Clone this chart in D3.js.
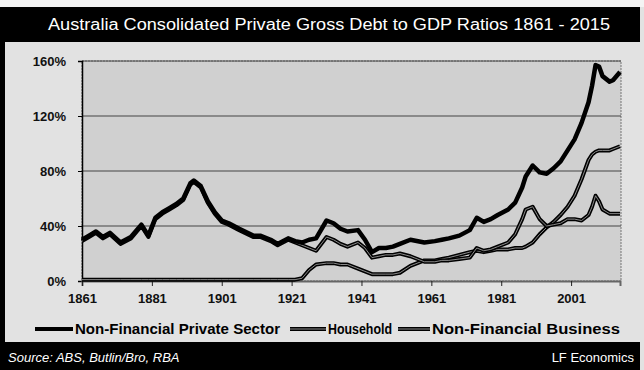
<!DOCTYPE html>
<html>
<head>
<meta charset="utf-8">
<script src="https://cdn.jsdelivr.net/npm/d3@7"></script>
<style>
  body { margin: 0; background: #fff; }
  svg { display: block; }
</style>
</head>
<body>
<div id="chart"></div>
<script>
const years = [1861, 1863, 1865, 1867, 1869, 1872, 1875, 1878, 1880, 1882, 1884, 1886, 1888, 1890, 1892, 1893, 1895, 1897, 1899, 1901,
  1903, 1906, 1910, 1912, 1915, 1917, 1920, 1922, 1924, 1926, 1928, 1931, 1933, 1935, 1937, 1940, 1942, 1944, 1946, 1948,
  1950, 1952, 1955, 1959, 1962, 1964, 1966, 1969, 1972, 1974, 1976, 1978, 1980, 1983, 1985, 1987, 1988, 1990, 1992, 1994,
  1996, 1998, 2000, 2002, 2004, 2006, 2007, 2008, 2009, 2010, 2012, 2013, 2015];

const privateSector = [30, 33, 36, 32, 35, 28, 32, 41, 33, 46, 50, 53, 56, 60, 71, 73, 69, 58, 50, 44,
  42, 38, 33, 33, 30, 27, 31, 29, 28, 30, 31, 44, 42, 38, 36, 37, 30, 21, 24, 24,
  25, 27, 30, 28, 29, 30, 31, 33, 37, 46, 43, 45, 48, 52, 57, 68, 76, 84, 79, 78,
  82, 87, 95, 103, 115, 130, 142, 157, 156, 149, 145, 146, 152];

const household = [1, 1, 1, 1, 1, 1, 1, 1, 1, 1, 1, 1, 1, 1, 1, 1, 1, 1, 1, 1,
  1, 1, 1, 1, 1, 1, 1, 1, 2, 8, 12, 13, 13, 12, 12, 9, 7, 5, 5, 5,
  5, 6, 11, 15, 15, 16, 17, 19, 21, 22, 21, 22, 23, 23, 24, 24, 25, 28, 34, 39,
  43, 48, 54, 62, 74, 88, 92, 94, 95, 95, 95, 96, 98];

const business = [29, 32, 35, 31, 34, 27, 31, 40, 32, 45, 49, 52, 55, 59, 70, 72, 68, 57, 49, 43,
  41, 37, 32, 32, 29, 26, 30, 28, 26, 24, 22, 32, 30, 27, 25, 28, 24, 17, 18, 19,
  19, 20, 18, 14, 14, 15, 15, 16, 17, 24, 22, 23, 25, 28, 34, 45, 52, 54, 45, 40,
  41, 42, 45, 45, 44, 48, 54, 62, 58, 52, 49, 49, 49];

const tickYears = [1861, 1881, 1901, 1921, 1941, 1961, 1981, 2001];
const yTicks = [0, 40, 80, 120, 160];
const seriesNames = ['Non-Financial Private Sector', 'Household', 'Non-Financial Business'];

const width = 644, height = 370;
const plot = {left: 82, right: 620, top: 61, bottom: 281};

const svg = d3.select('#chart').append('svg')
  .attr('width', width)
  .attr('height', height)
  .style('font-family', '"Liberation Sans", Arial, sans-serif');

// background + dark frame bits
svg.append('rect').attr('width', width).attr('height', height).attr('fill', '#e2e2e2');
svg.append('rect').attr('x', 0).attr('y', 0).attr('width', width).attr('height', 7).attr('fill', '#f4f4f4');
svg.append('rect').attr('x', 0).attr('y', 7).attr('width', 5).attr('height', height - 7).attr('fill', '#000');
svg.append('rect').attr('x', 0).attr('y', 7).attr('width', 640).attr('height', 35).attr('fill', '#000');
svg.append('rect').attr('x', 0).attr('y', 342).attr('width', 640).attr('height', 28).attr('fill', '#000');

const x = d3.scaleLinear().domain([1861, 2015]).range([plot.left, plot.right]);
const y = d3.scaleLinear().domain([0, 160]).range([plot.bottom, plot.top]);

svg.append('rect')
  .attr('x', plot.left).attr('y', plot.top)
  .attr('width', plot.right - plot.left + 1).attr('height', plot.bottom - plot.top)
  .attr('fill', '#d0d0d0')
  .attr('stroke', '#777')
  .attr('stroke-dasharray', '2,1');

// gridlines
svg.append('g')
  .selectAll('line')
  .data(yTicks.slice(1))
  .enter().append('line')
    .attr('x1', plot.left).attr('x2', plot.right + 1)
    .attr('y1', d => y(d)).attr('y2', d => y(d))
    .attr('stroke', '#444')
    .attr('stroke-width', 1);

// y axis
const yAxis = svg.append('g')
  .attr('transform', 'translate(' + plot.left + ',0)')
  .call(d3.axisLeft(y).tickValues(yTicks).tickSize(4).tickFormat(d => d + '%'));
yAxis.select('.domain').attr('stroke', '#000').attr('stroke-width', 1.5);
yAxis.selectAll('text')
  .attr('x', -16)
  .attr('fill', '#111')
  .style('font-size', '13px')
  .style('font-weight', 'bold');

// x axis
const xAxis = svg.append('g')
  .attr('transform', 'translate(0,' + plot.bottom + ')')
  .call(d3.axisBottom(x).tickValues(tickYears).tickSize(5).tickFormat(d3.format('d')));
xAxis.select('.domain').attr('stroke', '#666').attr('stroke-width', 2);
xAxis.selectAll('line').attr('stroke', '#222');
xAxis.selectAll('text')
  .attr('y', 13)
  .attr('fill', '#111')
  .style('font-size', '13px')
  .style('font-weight', 'bold');

const line = values => d3.line()
  .x((d, i) => x(years[i]))
  .y(d => y(d))(values);

// Household and business drawn as hollow-ish lines, private sector solid on top
[household, business].forEach(vals => {
  svg.append('path').attr('d', line(vals)).attr('fill', 'none')
    .attr('stroke', '#000').attr('stroke-width', 4).attr('stroke-linejoin', 'round');
  svg.append('path').attr('d', line(vals)).attr('fill', 'none')
    .attr('stroke', '#999').attr('stroke-width', 0.9).attr('stroke-linejoin', 'round');
});
svg.append('path').attr('d', line(privateSector)).attr('fill', 'none')
  .attr('stroke', '#000').attr('stroke-width', 4.5).attr('stroke-linejoin', 'round');

// legend
const legendItems = [
  {x1: 35, x2: 73, tx: 75, len: 205, hollow: false},
  {x1: 290, x2: 326, tx: 328, len: 64, hollow: true},
  {x1: 398, x2: 430, tx: 432, len: 188, hollow: true}
];
legendItems.forEach((it, i) => {
  svg.append('line').attr('x1', it.x1).attr('x2', it.x2).attr('y1', 329).attr('y2', 329)
    .attr('stroke', '#000').attr('stroke-width', 4);
  if (it.hollow) {
    svg.append('line').attr('x1', it.x1).attr('x2', it.x2).attr('y1', 329).attr('y2', 329)
      .attr('stroke', '#999').attr('stroke-width', 0.9);
  }
  svg.append('text')
    .attr('x', it.tx).attr('y', 334)
    .attr('textLength', it.len).attr('lengthAdjust', 'spacingAndGlyphs')
    .attr('fill', '#000')
    .style('font-size', '14px')
    .style('font-weight', 'bold')
    .text(seriesNames[i]);
});

// title and footer
svg.append('text')
  .attr('x', 329).attr('y', 30)
  .attr('text-anchor', 'middle')
  .attr('textLength', 562).attr('lengthAdjust', 'spacingAndGlyphs')
  .attr('fill', '#fff')
  .style('font-size', '16px')
  .text('Australia Consolidated Private Gross Debt to GDP Ratios 1861 - 2015');

svg.append('text')
  .attr('x', 8).attr('y', 362)
  .attr('fill', '#fff')
  .style('font-size', '13px')
  .style('font-style', 'italic')
  .text('Source: ABS, Butlin/Bro, RBA');

svg.append('text')
  .attr('x', 634).attr('y', 362)
  .attr('text-anchor', 'end')
  .attr('fill', '#fff')
  .style('font-size', '13px')
  .text('LF Economics');
</script>
</body>
</html>
